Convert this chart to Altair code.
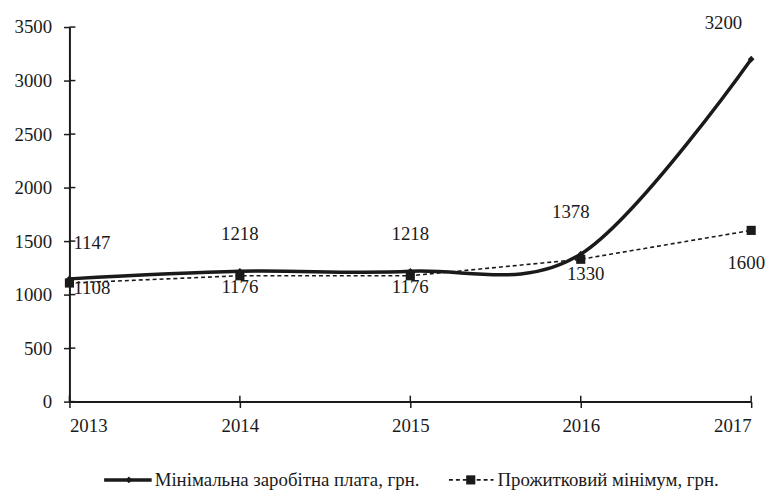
import altair as alt
import pandas as pd

years = [2013, 2014, 2015, 2016, 2017]
min_wage = [1147, 1218, 1218, 1378, 3200]
subsistence = [1108, 1176, 1176, 1330, 1600]
y_ticks = [0, 500, 1000, 1500, 2000, 2500, 3000, 3500]
series_names = ["Мінімальна заробітна плата, грн.", "Прожитковий мінімум, грн."]

FONT = "Liberation Serif"
INK = "#1a1a1a"
W, H = 688, 378

df_w = pd.DataFrame({"year": years, "value": min_wage})
df_s = pd.DataFrame({"year": years, "value": subsistence})
df_t = pd.DataFrame({"v": y_ticks})

xs = alt.Scale(domain=[years[0], years[-1]], nice=False, zero=False)
ys = alt.Scale(domain=[y_ticks[0], y_ticks[-1]], nice=False)

X = alt.X("year:Q", scale=xs, title=None,
          axis=alt.Axis(values=years, format="d", labelPadding=9, tickSize=6,
                        labelFont=FONT, labelFontSize=19, labelColor=INK))
Y = alt.Y("value:Q", scale=ys, title=None,
          axis=alt.Axis(values=y_ticks, format="d", labelPadding=12, tickSize=6,
                        labelFont=FONT, labelFontSize=19, labelColor=INK))

wage_line = alt.Chart(df_w).mark_line(
    interpolate="cardinal", tension=0, strokeWidth=3.5, color=INK
).encode(x=X, y=Y)
wage_pts = alt.Chart(df_w).mark_point(
    shape="diamond", filled=True, size=45, color=INK, opacity=1
).encode(x=X, y=Y)

sub_line = alt.Chart(df_s).mark_line(
    strokeWidth=1.6, strokeDash=[4, 3], color=INK
).encode(x=X, y=Y)
sub_pts = alt.Chart(df_s).mark_square(size=85, color=INK, opacity=1).encode(x=X, y=Y)


def labels(df, yrs, dx, dy, align):
    return alt.Chart(df).transform_filter(
        alt.FieldOneOfPredicate(field="year", oneOf=yrs)
    ).mark_text(
        font=FONT, fontSize=19, color=INK, dx=dx, dy=dy, align=align, baseline="middle"
    ).encode(x=X, y=Y, text=alt.Text("value:Q", format="d"))


lab = [
    labels(df_w, [2013], 4, -36, "left"),
    labels(df_w, [2014, 2015], 0, -38, "center"),
    labels(df_w, [2016], -10, -42, "center"),
    labels(df_w, [2017], -9, -36, "right"),
    labels(df_s, [2013], 4, 5, "left"),
    labels(df_s, [2014, 2015], 0, 11, "center"),
    labels(df_s, [2016], 5, 15, "center"),
    labels(df_s, [2017], -5, 33, "center"),
]

# inward halves of the crossing tick marks
ytick_in = alt.Chart(df_t).mark_rule(color=INK, strokeWidth=1.5).encode(
    y=alt.Y("v:Q", scale=ys), x=alt.value(0), x2=alt.value(6)
)
xtick_in = alt.Chart(df_w).mark_rule(color=INK, strokeWidth=1.5).encode(
    x=alt.X("year:Q", scale=xs), y=alt.value(H - 6), y2=alt.value(H)
)

# legend
LY = 457
one = alt.Data(values=[{}])
leg = [
    alt.Chart(one).mark_rule(color=INK, strokeWidth=3.5).encode(
        x=alt.value(35), x2=alt.value(83), y=alt.value(LY)),
    alt.Chart(one).mark_point(shape="diamond", filled=True, size=45, color=INK, opacity=1).encode(
        x=alt.value(60), y=alt.value(LY)),
    alt.Chart(one).mark_text(font=FONT, fontSize=19, color=INK, align="left", baseline="middle").encode(
        x=alt.value(86), y=alt.value(LY), text=alt.value(series_names[0])),
    alt.Chart(one).mark_rule(color=INK, strokeWidth=1.6, strokeDash=[4, 3]).encode(
        x=alt.value(383), x2=alt.value(428), y=alt.value(LY)),
    alt.Chart(one).mark_square(size=85, color=INK, opacity=1).encode(
        x=alt.value(405), y=alt.value(LY)),
    alt.Chart(one).mark_text(font=FONT, fontSize=19, color=INK, align="left", baseline="middle").encode(
        x=alt.value(432), y=alt.value(LY), text=alt.value(series_names[1])),
]

chart = alt.layer(
    sub_line, wage_line, sub_pts, wage_pts, ytick_in, xtick_in, *lab, *leg
).properties(
    width=W, height=H,
    autosize=alt.AutoSizeParams(type="none"),
    padding={"left": 62, "top": 17, "right": 20, "bottom": 90},
).configure_view(stroke=None).configure_axis(
    domainColor=INK, domainWidth=2, tickColor=INK, tickWidth=1.5,
    labelFont=FONT, labelFontSize=19, labelColor=INK, grid=False,
).configure_text(font=FONT)

chart.save("out.html", embed_options={"renderer": "svg", "actions": False})
